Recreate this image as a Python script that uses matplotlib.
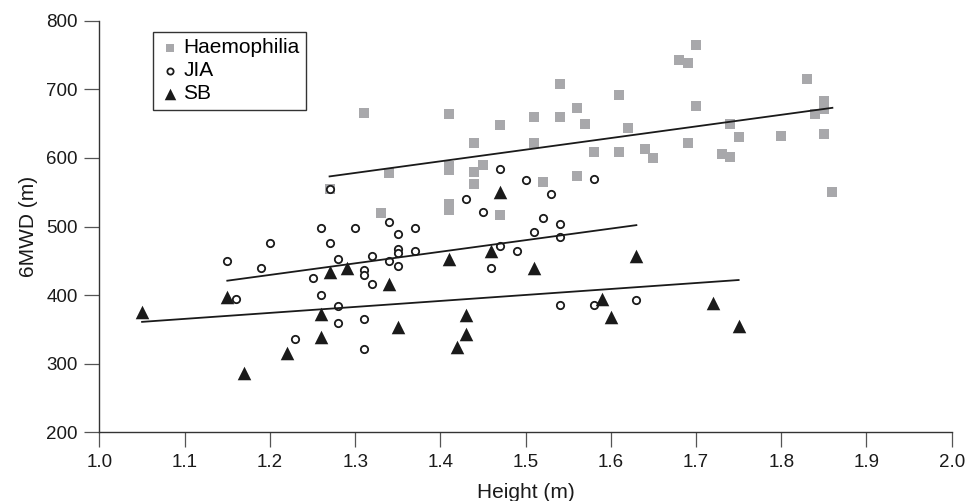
#6MWD against height for three patient groups, with fitted lines
import matplotlib
matplotlib.use('Agg')
import matplotlib.pyplot as plt

plt.rcParams['font.family'] = ['Liberation Sans', 'DejaVu Sans']

#data
haem_height = [1.27, 1.31, 1.33, 1.34, 1.41, 1.41, 1.41, 1.41, 1.41, 1.44, 1.44, 1.44, 1.45,
               1.47, 1.47, 1.51, 1.51, 1.52, 1.54, 1.54, 1.56, 1.56, 1.57, 1.58, 1.61, 1.61,
               1.62, 1.64, 1.65, 1.68, 1.69, 1.69, 1.70, 1.70, 1.73, 1.74, 1.74, 1.75, 1.80,
               1.83, 1.84, 1.85, 1.85, 1.85, 1.86]
haem_6mwd = [554, 666, 520, 578, 664, 588, 582, 533, 524, 621, 579, 562, 590,
             648, 517, 660, 621, 565, 707, 659, 673, 574, 650, 609, 692, 609,
             644, 613, 600, 743, 739, 621, 765, 676, 606, 650, 602, 631, 632,
             715, 664, 683, 672, 635, 551]

jia_height = [1.15, 1.16, 1.19, 1.20, 1.23, 1.25, 1.26, 1.26, 1.27, 1.27, 1.28, 1.28, 1.28,
              1.30, 1.31, 1.31, 1.31, 1.31, 1.32, 1.32, 1.34, 1.34, 1.35, 1.35, 1.35, 1.35,
              1.37, 1.37, 1.43, 1.45, 1.46, 1.47, 1.47, 1.49, 1.50, 1.51, 1.52, 1.53, 1.54,
              1.54, 1.54, 1.58, 1.58, 1.63]
jia_6mwd = [449, 394, 440, 476, 336, 425, 498, 400, 554, 476, 453, 384, 360,
            498, 436, 429, 365, 322, 457, 416, 507, 449, 489, 467, 461, 443,
            498, 465, 540, 521, 440, 584, 472, 465, 568, 492, 513, 548, 504,
            484, 385, 569, 385, 393]

sb_height = [1.05, 1.15, 1.17, 1.22, 1.26, 1.26, 1.27, 1.29, 1.34, 1.35, 1.41, 1.42, 1.43,
             1.43, 1.46, 1.47, 1.51, 1.59, 1.60, 1.63, 1.72, 1.75]
sb_6mwd = [375, 397, 286, 315, 372, 339, 434, 440, 416, 354, 452, 325, 371,
           344, 465, 551, 440, 394, 368, 457, 388, 355]

#end points of the fitted lines
haem_fit_x = [1.27, 1.86]
haem_fit_y = [573, 673]
jia_fit_x = [1.15, 1.63]
jia_fit_y = [421, 502]
sb_fit_x = [1.05, 1.75]
sb_fit_y = [361, 422]

x_ticks = [1.0, 1.1, 1.2, 1.3, 1.4, 1.5, 1.6, 1.7, 1.8, 1.9, 2.0]
y_ticks = [200, 300, 400, 500, 600, 700, 800]

fig = plt.figure(figsize=(9.77, 5.01), dpi=100)
ax = fig.add_axes([0.1018, 0.1371, 0.8723, 0.8216])

grey = '#a8a8ab'
ax.scatter(haem_height, haem_6mwd, marker='s', s=52, color=grey, linewidths=0,
           label='Haemophilia', zorder=2)
ax.scatter(jia_height, jia_6mwd, marker='o', s=28, facecolor='white', edgecolor='#1a1a1a',
           linewidths=1.3, label='JIA', zorder=3)
ax.scatter(sb_height, sb_6mwd, marker='^', s=95, color='#1a1a1a', linewidths=0,
           label='SB', zorder=4)

for fx, fy in [(haem_fit_x, haem_fit_y), (jia_fit_x, jia_fit_y), (sb_fit_x, sb_fit_y)]:
    ax.plot(fx, fy, color='#1a1a1a', linewidth=1.3, zorder=5)

ax.set_xlim(1.0, 2.0)
ax.set_ylim(200, 800)
ax.set_xticks(x_ticks)
ax.set_xticklabels(['{:.1f}'.format(t) for t in x_ticks])
ax.set_yticks(y_ticks)

ax.spines['top'].set_visible(False)
ax.spines['right'].set_visible(False)
for sp in ['left', 'bottom']:
    ax.spines[sp].set_linewidth(1.0)
    ax.spines[sp].set_color('#333333')
ax.tick_params(direction='out', length=10.5, width=0.9, color='#555555',
               labelsize=13.5, pad=5, labelcolor='#1a1a1a')

ax.set_xlabel('Height (m)', fontsize=15, color='#1a1a1a', labelpad=9)
ax.set_ylabel('6MWD (m)', fontsize=15, color='#1a1a1a', labelpad=6)

leg = ax.legend(loc='upper left', bbox_to_anchor=(0.063, 0.973), fontsize=15,
                frameon=True, fancybox=False, edgecolor='#333333', framealpha=1,
                handletextpad=0.15, handlelength=1.0, borderpad=0.3, markerscale=0.85,
                labelspacing=0.2, borderaxespad=0)
leg.get_frame().set_linewidth(1.0)

fig.savefig('out.png', dpi=100)
